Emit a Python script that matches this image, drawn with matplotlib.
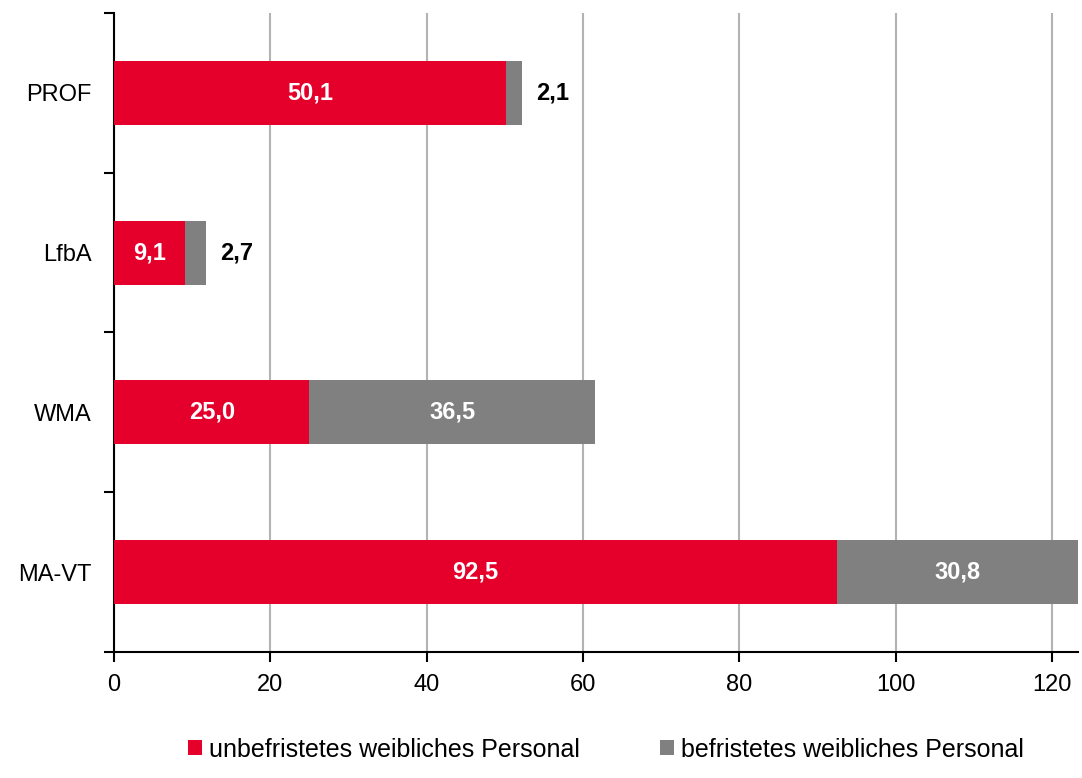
import matplotlib.pyplot as plt
import numpy as np

plt.rcParams['font.family'] = ['Liberation Sans', 'DejaVu Sans']

categories = ['PROF', 'LfbA', 'WMA', 'MA-VT']
unbefristet = [50.1, 9.1, 25.0, 92.5]
befristet = [2.1, 2.7, 36.5, 30.8]
x_ticks = [0, 20, 40, 60, 80, 100, 120]

red = '#E4002B'
gray = '#808080'
fs = 17


def fmt(v):
    return '{:.1f}'.format(v).replace('.', ',')


fig = plt.figure(figsize=(10.82, 7.78), dpi=100)
ax = fig.add_axes([0.1054, 0.162, 0.8909, 0.8213])

y = np.arange(len(categories))
unb = np.array(unbefristet)
bef = np.array(befristet)

b1 = ax.barh(y, unb, height=0.4, color=red, label='unbefristetes weibliches Personal', zorder=3)
b2 = ax.barh(y, bef, left=unb, height=0.4, color=gray, label='befristetes weibliches Personal', zorder=3)

# labels: inside white, or outside black when the segment is too small
for i in range(len(categories)):
    ax.text(unb[i] / 2, y[i], fmt(unb[i]), ha='center', va='center',
            color='white', fontsize=fs, fontweight='bold', zorder=4)
    if bef[i] > 5:
        ax.text(unb[i] + bef[i] / 2, y[i], fmt(bef[i]), ha='center', va='center',
                color='white', fontsize=fs, fontweight='bold', zorder=4)
    else:
        ax.text(unb[i] + bef[i] + 1.8, y[i], fmt(bef[i]), ha='left', va='center',
                color='black', fontsize=fs, fontweight='bold', zorder=4)

ax.set_xlim(0, 123.3)
ax.set_ylim(len(categories) - 0.5, -0.5)
ax.set_xticks(x_ticks)
ax.set_yticks(y)
ax.set_yticklabels(categories)
ax.set_yticks(np.arange(-0.5, len(categories)), minor=True)
ax.tick_params(axis='y', which='major', length=0, pad=16, labelsize=fs)
ax.tick_params(axis='y', which='minor', length=7, width=1.5, direction='out')
ax.tick_params(axis='x', length=7, width=1.5, direction='out', pad=9, labelsize=fs)

ax.grid(axis='x', color='#b3b3b3', linewidth=1.5, zorder=0)
for s in ['top', 'right']:
    ax.spines[s].set_visible(False)
ax.spines['left'].set_linewidth(1.5)
ax.spines['bottom'].set_linewidth(1.5)

fig.legend(handles=[b1, b2], loc='lower center', ncol=2, frameon=False,
           fontsize=18, handlelength=0.55, handleheight=0.55, handletextpad=0.3,
           columnspacing=3.2, bbox_to_anchor=(0.56, -0.008))

fig.savefig('out.png', dpi=100)
